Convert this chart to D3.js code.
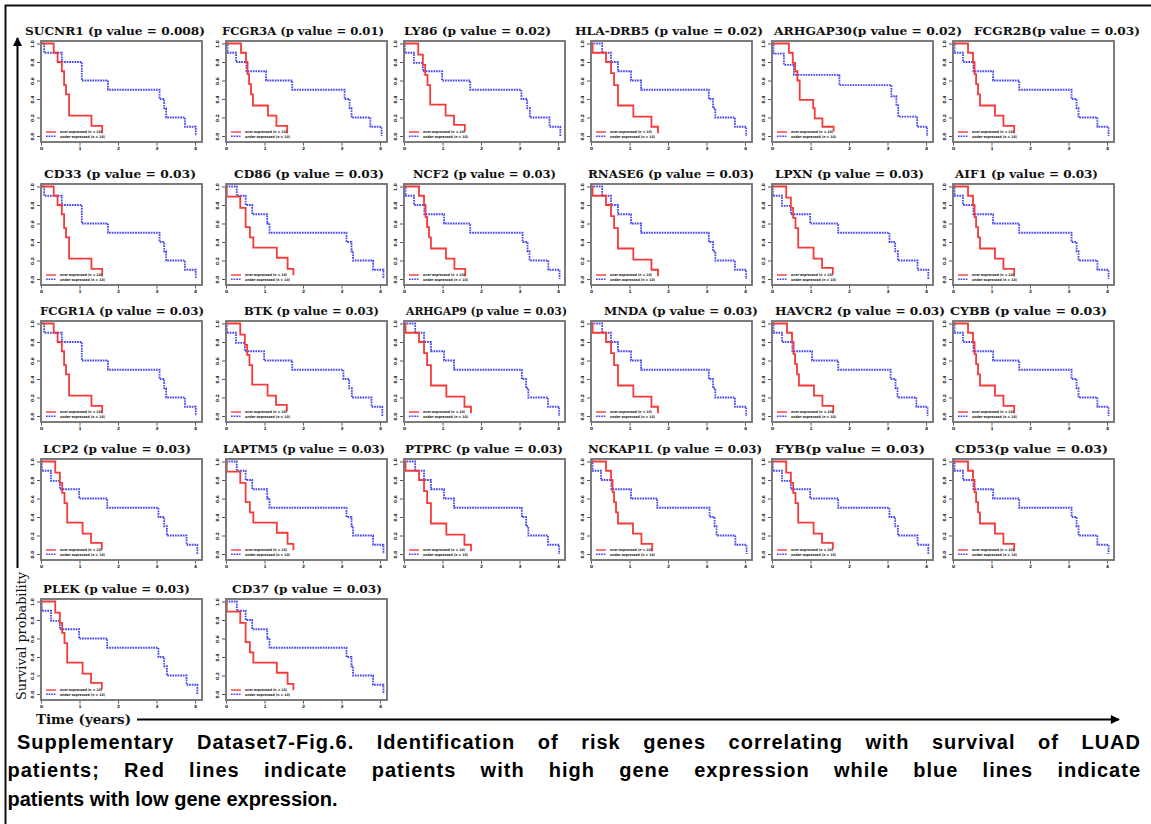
<!DOCTYPE html>
<html>
<head>
<meta charset="utf-8">
<script src="https://cdn.jsdelivr.net/npm/d3@7"></script>
<style>
  body { margin: 0; background: #fff; }
  svg { display: block; }
</style>
</head>
<body>
<svg id="fig" width="1151" height="824"></svg>
<script>
// ---- data -------------------------------------------------------------
const panelTitles = [
  "SUCNR1 (p value = 0.008)", "FCGR3A (p value = 0.01)", "LY86 (p value = 0.02)",
  "HLA-DRB5 (p value = 0.02)", "ARHGAP30(p value = 0.02)", "FCGR2B(p value = 0.03)",
  "CD33 (p value = 0.03)", "CD86 (p value = 0.03)", "NCF2 (p value = 0.03)",
  "RNASE6 (p value = 0.03)", "LPXN (p value = 0.03)", "AIF1 (p value = 0.03)",
  "FCGR1A (p value = 0.03)", "BTK (p value = 0.03)", "ARHGAP9 (p value = 0.03)",
  "MNDA (p value = 0.03)", "HAVCR2 (p value = 0.03)", "CYBB (p value = 0.03)",
  "LCP2 (p value = 0.03)", "LAPTM5 (p value = 0.03)", "PTPRC (p value = 0.03)",
  "NCKAP1L (p value = 0.03)", "FYB(p value = 0.03)", "CD53(p value = 0.03)",
  "PLEK (p value = 0.03)", "CD37 (p value = 0.03)"
];

// Kaplan-Meier steps [time (years), survival] for the over-expressed group (red)
const redCurves = [
  [[0,1],[0.33,0.9],[0.43,0.8],[0.54,0.7],[0.6,0.55],[0.65,0.45],[0.73,0.22],[1.31,0.11],[1.59,0.03]],
  [[0,1],[0.39,0.9],[0.52,0.8],[0.56,0.67],[0.6,0.56],[0.65,0.45],[0.7,0.33],[1.09,0.22],[1.31,0.11],[1.59,0.03]],
  [[0,1],[0.37,0.88],[0.49,0.77],[0.55,0.66],[0.61,0.55],[0.68,0.34],[1.08,0.22],[1.3,0.12],[1.58,0.05]],
  [[0,1],[0.04,0.9],[0.39,0.8],[0.52,0.68],[0.6,0.55],[0.7,0.33],[1.1,0.21],[1.57,0.1],[1.74,0.03]],
  [[0,1],[0.44,0.9],[0.54,0.79],[0.6,0.7],[0.66,0.6],[0.72,0.39],[1.07,0.3],[1.11,0.19],[1.31,0.1],[1.6,0.05]],
  [[0,1],[0.39,0.9],[0.52,0.8],[0.56,0.67],[0.6,0.56],[0.65,0.45],[0.7,0.33],[1.09,0.22],[1.31,0.11],[1.59,0.03]],
  [[0,1],[0.33,0.9],[0.43,0.8],[0.54,0.7],[0.6,0.55],[0.65,0.45],[0.73,0.22],[1.31,0.11],[1.59,0.03]],
  [[0,1],[0.02,0.89],[0.37,0.77],[0.51,0.56],[0.62,0.45],[0.71,0.34],[1.32,0.23],[1.6,0.11],[1.75,0.04]],
  [[0,1],[0.39,0.9],[0.52,0.8],[0.56,0.67],[0.6,0.56],[0.65,0.45],[0.7,0.33],[1.09,0.22],[1.31,0.11],[1.59,0.03]],
  [[0,1],[0.04,0.9],[0.39,0.8],[0.52,0.68],[0.6,0.55],[0.7,0.33],[1.1,0.21],[1.57,0.1],[1.74,0.03]],
  [[0,1],[0.37,0.88],[0.49,0.77],[0.55,0.66],[0.61,0.55],[0.68,0.34],[1.08,0.22],[1.3,0.12],[1.58,0.05]],
  [[0,1],[0.39,0.9],[0.52,0.8],[0.56,0.67],[0.6,0.56],[0.65,0.45],[0.7,0.33],[1.09,0.22],[1.31,0.11],[1.59,0.03]],
  [[0,1],[0.33,0.9],[0.43,0.8],[0.54,0.7],[0.6,0.55],[0.65,0.45],[0.73,0.22],[1.31,0.11],[1.59,0.03]],
  [[0,1],[0.37,0.88],[0.49,0.77],[0.55,0.66],[0.61,0.55],[0.68,0.34],[1.08,0.22],[1.3,0.12],[1.58,0.05]],
  [[0,1],[0.04,0.9],[0.39,0.8],[0.52,0.68],[0.6,0.55],[0.7,0.33],[1.1,0.21],[1.57,0.1],[1.74,0.03]],
  [[0,1],[0.04,0.9],[0.39,0.8],[0.52,0.68],[0.6,0.55],[0.7,0.33],[1.1,0.21],[1.57,0.1],[1.74,0.03]],
  [[0,1],[0.39,0.9],[0.52,0.8],[0.56,0.67],[0.6,0.56],[0.65,0.45],[0.7,0.33],[1.09,0.22],[1.31,0.11],[1.59,0.03]],
  [[0,1],[0.39,0.9],[0.52,0.8],[0.56,0.67],[0.6,0.56],[0.65,0.45],[0.7,0.33],[1.09,0.22],[1.31,0.11],[1.59,0.03]],
  [[0,1],[0.37,0.88],[0.49,0.77],[0.55,0.66],[0.61,0.55],[0.68,0.34],[1.08,0.22],[1.3,0.12],[1.58,0.05]],
  [[0,1],[0.02,0.89],[0.37,0.77],[0.51,0.56],[0.62,0.45],[0.71,0.34],[1.32,0.23],[1.6,0.11],[1.75,0.04]],
  [[0,1],[0.04,0.9],[0.39,0.8],[0.52,0.68],[0.6,0.55],[0.7,0.33],[1.1,0.21],[1.57,0.1],[1.74,0.03]],
  [[0,1],[0.39,0.9],[0.52,0.8],[0.56,0.67],[0.6,0.56],[0.65,0.45],[0.7,0.33],[1.09,0.22],[1.31,0.11],[1.59,0.03]],
  [[0,1],[0.37,0.88],[0.49,0.77],[0.55,0.66],[0.61,0.55],[0.68,0.34],[1.08,0.22],[1.3,0.12],[1.58,0.05]],
  [[0,1],[0.39,0.9],[0.52,0.8],[0.56,0.67],[0.6,0.56],[0.65,0.45],[0.7,0.33],[1.09,0.22],[1.31,0.11],[1.59,0.03]],
  [[0,1],[0.37,0.88],[0.49,0.77],[0.55,0.66],[0.61,0.55],[0.68,0.34],[1.08,0.22],[1.3,0.12],[1.58,0.05]],
  [[0,1],[0.02,0.89],[0.37,0.77],[0.51,0.56],[0.62,0.45],[0.71,0.34],[1.32,0.23],[1.6,0.11],[1.75,0.04]]
];

// Kaplan-Meier steps for the under-expressed group (blue)
const blueCurves = [
  [[0,1],[0.08,0.9],[0.54,0.8],[1.06,0.6],[1.74,0.5],[3.08,0.4],[3.2,0.3],[3.25,0.2],[3.74,0.1],[4.02,0]],
  [[0,1],[0.04,0.9],[0.26,0.8],[0.53,0.7],[1.04,0.6],[1.72,0.5],[3.08,0.4],[3.21,0.3],[3.26,0.2],[3.75,0.1],[4.04,0]],
  [[0,1],[0.02,0.9],[0.26,0.79],[0.49,0.7],[0.99,0.6],[1.72,0.5],[3.05,0.4],[3.2,0.3],[3.27,0.2],[3.78,0.1],[4.06,0]],
  [[0,1],[0.29,0.9],[0.52,0.8],[0.7,0.7],[1.04,0.6],[1.3,0.5],[3.06,0.4],[3.17,0.3],[3.23,0.2],[3.74,0.1],[4.03,0]],
  [[0,1],[0.04,0.89],[0.31,0.77],[0.57,0.66],[1.75,0.55],[3.1,0.43],[3.23,0.33],[3.28,0.21],[3.77,0.1],[4.03,0]],
  [[0,1],[0.04,0.9],[0.26,0.8],[0.53,0.7],[1.04,0.6],[1.72,0.5],[3.08,0.4],[3.21,0.3],[3.26,0.2],[3.75,0.1],[4.04,0]],
  [[0,1],[0.08,0.9],[0.54,0.8],[1.06,0.6],[1.74,0.5],[3.08,0.4],[3.2,0.3],[3.25,0.2],[3.74,0.1],[4.02,0]],
  [[0,1],[0.28,0.9],[0.51,0.8],[0.68,0.7],[1.07,0.6],[1.13,0.5],[3.13,0.4],[3.26,0.3],[3.3,0.2],[3.82,0.1],[4.09,0]],
  [[0,1],[0.04,0.9],[0.26,0.8],[0.53,0.7],[1.04,0.6],[1.72,0.5],[3.08,0.4],[3.21,0.3],[3.26,0.2],[3.75,0.1],[4.04,0]],
  [[0,1],[0.29,0.9],[0.52,0.8],[0.7,0.7],[1.04,0.6],[1.3,0.5],[3.06,0.4],[3.17,0.3],[3.23,0.2],[3.74,0.1],[4.03,0]],
  [[0,1],[0.02,0.9],[0.26,0.79],[0.49,0.7],[0.99,0.6],[1.72,0.5],[3.05,0.4],[3.2,0.3],[3.27,0.2],[3.78,0.1],[4.06,0]],
  [[0,1],[0.04,0.9],[0.26,0.8],[0.53,0.7],[1.04,0.6],[1.72,0.5],[3.08,0.4],[3.21,0.3],[3.26,0.2],[3.75,0.1],[4.04,0]],
  [[0,1],[0.08,0.9],[0.54,0.8],[1.06,0.6],[1.74,0.5],[3.08,0.4],[3.2,0.3],[3.25,0.2],[3.74,0.1],[4.02,0]],
  [[0,1],[0.02,0.9],[0.26,0.79],[0.49,0.7],[0.99,0.6],[1.72,0.5],[3.05,0.4],[3.2,0.3],[3.27,0.2],[3.78,0.1],[4.06,0]],
  [[0,1],[0.29,0.9],[0.52,0.8],[0.7,0.7],[1.04,0.6],[1.3,0.5],[3.06,0.4],[3.17,0.3],[3.23,0.2],[3.74,0.1],[4.03,0]],
  [[0,1],[0.29,0.9],[0.52,0.8],[0.7,0.7],[1.04,0.6],[1.3,0.5],[3.06,0.4],[3.17,0.3],[3.23,0.2],[3.74,0.1],[4.03,0]],
  [[0,1],[0.04,0.9],[0.26,0.8],[0.53,0.7],[1.04,0.6],[1.72,0.5],[3.08,0.4],[3.21,0.3],[3.26,0.2],[3.75,0.1],[4.04,0]],
  [[0,1],[0.04,0.9],[0.26,0.8],[0.53,0.7],[1.04,0.6],[1.72,0.5],[3.08,0.4],[3.21,0.3],[3.26,0.2],[3.75,0.1],[4.04,0]],
  [[0,1],[0.02,0.9],[0.26,0.79],[0.49,0.7],[0.99,0.6],[1.72,0.5],[3.05,0.4],[3.2,0.3],[3.27,0.2],[3.78,0.1],[4.06,0]],
  [[0,1],[0.28,0.9],[0.51,0.8],[0.68,0.7],[1.07,0.6],[1.13,0.5],[3.13,0.4],[3.26,0.3],[3.3,0.2],[3.82,0.1],[4.09,0]],
  [[0,1],[0.29,0.9],[0.52,0.8],[0.7,0.7],[1.04,0.6],[1.3,0.5],[3.06,0.4],[3.17,0.3],[3.23,0.2],[3.74,0.1],[4.03,0]],
  [[0,1],[0.04,0.9],[0.26,0.8],[0.53,0.7],[1.04,0.6],[1.72,0.5],[3.08,0.4],[3.21,0.3],[3.26,0.2],[3.75,0.1],[4.04,0]],
  [[0,1],[0.02,0.9],[0.26,0.79],[0.49,0.7],[0.99,0.6],[1.72,0.5],[3.05,0.4],[3.2,0.3],[3.27,0.2],[3.78,0.1],[4.06,0]],
  [[0,1],[0.04,0.9],[0.26,0.8],[0.53,0.7],[1.04,0.6],[1.72,0.5],[3.08,0.4],[3.21,0.3],[3.26,0.2],[3.75,0.1],[4.04,0]],
  [[0,1],[0.02,0.9],[0.26,0.79],[0.49,0.7],[0.99,0.6],[1.72,0.5],[3.05,0.4],[3.2,0.3],[3.27,0.2],[3.78,0.1],[4.06,0]],
  [[0,1],[0.28,0.9],[0.51,0.8],[0.68,0.7],[1.07,0.6],[1.13,0.5],[3.13,0.4],[3.26,0.3],[3.3,0.2],[3.82,0.1],[4.09,0]]
];

const xTicks = [0, 1, 2, 3, 4];
const yTicks = [0, 0.2, 0.4, 0.6, 0.8, 1.0];
const legendLabels = ["over-expressed (n = 10)", "under-expressed (n = 10)"];
const yAxisLabel = "Survival probability";
const xAxisLabel = "Time (years)";
const captionLines = [
  "Supplementary Dataset7-Fig.6. Identification of risk genes correlating with survival of LUAD",
  "patients; Red lines indicate patients with high gene expression while blue lines indicate",
  "patients with low gene expression."
];

// ---- layout -----------------------------------------------------------
const colLeft = [41, 226, 404, 591, 772, 953];
const rowTop = [41, 184, 321, 459, 599];
const boxW = 161, boxH = 101;
// horizontal extent [start, end] of each panel heading
const titleSpan = [
  [25, 205], [222, 384], [404, 551], [575, 763], [774, 962], [974, 1140],
  [44, 196], [234, 384], [413, 556], [588, 754], [775, 924], [955, 1098],
  [40, 204], [244, 379], [406, 567], [604, 758], [775, 945], [950, 1107],
  [43, 191], [223, 385], [405, 563], [588, 762], [775, 925], [955, 1108],
  [43, 190], [232, 382]
];

const svg = d3.select("#fig");
svg.append("rect").attr("width", 1151).attr("height", 824).attr("fill", "#fff");

// outer frame (only top and left edges fall inside the page)
svg.append("path")
  .attr("d", "M5.5,830 V5.5 H1160")
  .attr("fill", "none").attr("stroke", "#111").attr("stroke-width", 2);

const RED = "#f53a3a", BLUE = "#4748f2";

panelTitles.forEach((title, i) => {
  const r = Math.floor(i / 6), c = i % 6;
  const left = colLeft[c], top = rowTop[r];
  const bottom = top + boxH;
  const x = d3.scaleLinear().domain([0, 4]).range([left, left + 154]);
  const y = d3.scaleLinear().domain([0, 1]).range([bottom - 6, top + 2.5]);
  const g = svg.append("g");

  // heading
  const span = titleSpan[i];
  g.append("text")
    .attr("x", span[0]).attr("y", top - 6.5)
    .attr("font-family", "DejaVu Serif").attr("font-weight", "bold")
    .attr("font-size", 11.8).attr("fill", "#111")
    .attr("textLength", span[1] - span[0]).attr("lengthAdjust", "spacingAndGlyphs")
    .text(title);

  // y axis ticks
  const ya = g.append("g").attr("transform", `translate(${left - 1},0)`)
    .call(d3.axisLeft(y).tickValues(yTicks).tickSize(3).tickFormat(d3.format(".1f")));
  ya.select(".domain").remove();
  ya.selectAll("line").attr("stroke", "#444").attr("stroke-width", 0.9);
  ya.selectAll("text")
    .attr("font-size", 4.4).attr("font-family", "DejaVu Sans").attr("font-weight", "bold")
    .attr("fill", "#222")
    .attr("x", null).attr("dy", null)
    .attr("text-anchor", "middle")
    .attr("transform", "translate(-6.5,0) rotate(-90)");

  // x axis ticks
  const xa = g.append("g").attr("transform", `translate(0,${bottom + 1})`)
    .call(d3.axisBottom(x).tickValues(xTicks).tickSize(2.5).tickFormat(d3.format("d")));
  xa.select(".domain").remove();
  xa.selectAll("line").attr("stroke", "#444").attr("stroke-width", 0.9);
  xa.selectAll("text").attr("font-size", 4.4).attr("font-family", "DejaVu Sans")
    .attr("font-weight", "bold")
    .attr("fill", "#222").attr("y", 4).attr("dy", "0.71em");

  const line = d3.line().x(d => x(d[0])).y(d => y(d[1])).curve(d3.curveStepAfter);

  // survival curves
  g.append("path").attr("d", line(blueCurves[i]))
    .attr("fill", "none").attr("stroke", BLUE).attr("stroke-width", 1.8)
    .attr("stroke-dasharray", "1.7,0.9");
  g.append("path").attr("d", line(redCurves[i]))
    .attr("fill", "none").attr("stroke", RED).attr("stroke-width", 1.8);

  // legend
  const lg = g.append("g");
  [RED, BLUE].forEach((col, k) => {
    const ly = bottom - 10 + k * 4.2;
    lg.append("line").attr("x1", left + 5).attr("x2", left + 15)
      .attr("y1", ly).attr("y2", ly).attr("stroke", col).attr("stroke-width", 1.4)
      .attr("stroke-dasharray", k ? "1.7,0.9" : null);
    lg.append("text").attr("x", left + 19).attr("y", ly + 1.3)
      .attr("font-size", 3.6).attr("font-family", "DejaVu Sans").attr("font-weight", "bold")
      .attr("fill", "#222")
      .attr("textLength", k ? 45 : 42).attr("lengthAdjust", "spacingAndGlyphs")
      .text(legendLabels[k]);
  });

  // panel frame
  g.append("rect").attr("x", left).attr("y", top).attr("width", boxW).attr("height", boxH)
    .attr("fill", "none").attr("stroke", "#767676").attr("stroke-width", 1.9);
});

// shared axes with arrows
const defs = svg.append("defs");
defs.append("marker").attr("id", "arrow")
  .attr("viewBox", "0 0 10 10").attr("refX", 9).attr("refY", 5)
  .attr("markerWidth", 5).attr("markerHeight", 4.5).attr("orient", "auto")
  .attr("markerUnits", "strokeWidth")
  .append("path").attr("d", "M0,0 L10,5 L0,10 Z").attr("fill", "#000");

svg.append("line").attr("x1", 17.5).attr("y1", 568).attr("x2", 17.5).attr("y2", 38)
  .attr("stroke", "#000").attr("stroke-width", 2).attr("marker-end", "url(#arrow)");
svg.append("line").attr("x1", 137).attr("y1", 719.5).attr("x2", 1119).attr("y2", 719.5)
  .attr("stroke", "#000").attr("stroke-width", 2).attr("marker-end", "url(#arrow)");

svg.append("text")
  .attr("transform", "translate(25.5,636) rotate(-90)")
  .attr("text-anchor", "middle")
  .attr("font-family", "DejaVu Serif").attr("font-size", 13).attr("fill", "#111")
  .attr("textLength", 128).attr("lengthAdjust", "spacingAndGlyphs")
  .text(yAxisLabel);

svg.append("text")
  .attr("x", 36).attr("y", 723.5)
  .attr("font-family", "DejaVu Serif").attr("font-weight", "bold")
  .attr("font-size", 12.2).attr("fill", "#111")
  .attr("textLength", 95).attr("lengthAdjust", "spacingAndGlyphs")
  .text(xAxisLabel);

// caption: first two lines are fully justified (light tracking plus wider word gaps)
const capFamily = "Liberation Sans, Arial, sans-serif";
const capSize = 20;
function captionLine(str, x0, x1, yb, tracking) {
  const g = svg.append("g")
    .attr("font-family", capFamily).attr("font-size", capSize)
    .attr("font-weight", "bold").attr("fill", "#000");
  if (tracking == null) {
    g.append("text").attr("x", x0).attr("y", yb).text(str);
    return;
  }
  const words = str.split(" ");
  const nodes = words.map(w => g.append("text").attr("y", yb)
    .attr("letter-spacing", tracking).text(w));
  const widths = nodes.map(n => n.node().getComputedTextLength() - tracking);
  const gap = (x1 - x0 - d3.sum(widths)) / (words.length - 1);
  let cx = x0;
  nodes.forEach((n, k) => { n.attr("x", cx); cx += widths[k] + gap; });
}
captionLine(captionLines[0], 17, 1140, 748.5, 1);
captionLine(captionLines[1], 7.5, 1140, 777, 1);
captionLine(captionLines[2], 7.5, 1140, 805.5, null);
</script>
</body>
</html>
